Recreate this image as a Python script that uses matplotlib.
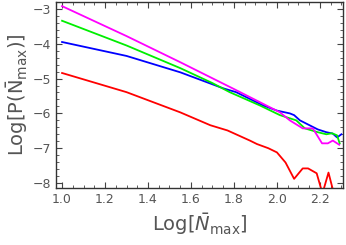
import matplotlib
matplotlib.use("Agg")
import matplotlib.pyplot as plt
from matplotlib.ticker import MultipleLocator

# red curve
x_red = [1.0, 1.3, 1.55, 1.69, 1.77, 1.874, 1.907, 1.96, 2.0, 2.04, 2.08,
         2.12, 2.145, 2.185, 2.212, 2.24, 2.265]
y_red = [-4.84, -5.39, -5.97, -6.34, -6.49, -6.78, -6.88, -7.0, -7.12, -7.41, -7.88,
         -7.58, -7.58, -7.72, -8.3, -7.7, -8.3]

# blue curve
x_blue = [1.0, 1.3, 1.55, 1.75, 1.81, 1.935, 2.0, 2.06, 2.08, 2.107, 2.19, 2.23,
          2.26, 2.28, 2.30]
y_blue = [-3.95, -4.35, -4.82, -5.28, -5.39, -5.77, -5.92, -6.0, -6.05, -6.2, -6.46,
          -6.54, -6.58, -6.69, -6.6]

# green curve
x_green = [1.0, 1.3, 1.55, 1.70, 1.78, 1.92, 2.014, 2.09, 2.13, 2.19, 2.23, 2.256,
           2.28, 2.292]
y_green = [-3.34, -4.05, -4.70, -5.13, -5.39, -5.77, -6.05, -6.2, -6.43, -6.54, -6.6,
           -6.57, -6.63, -6.86]

# magenta curve
x_mag = [1.0, 1.3, 1.55, 1.80, 2.014, 2.06, 2.12, 2.167, 2.21, 2.237, 2.26, 2.29]
y_mag = [-2.92, -3.78, -4.53, -5.3, -5.97, -6.2, -6.43, -6.43, -6.86, -6.86, -6.78,
         -6.9]

plt.rcParams['mathtext.fontset'] = 'dejavusans'
fig = plt.figure(figsize=(3.46, 2.45), dpi=100)
ax = fig.add_axes([0.162, 0.233, 0.829, 0.759])

lw = 1.3
ax.plot(x_red, y_red, color='#ff0000', lw=lw)
ax.plot(x_blue, y_blue, color='#0000ff', lw=lw)
ax.plot(x_green, y_green, color='#00ee00', lw=lw)
ax.plot(x_mag, y_mag, color='#ff00ff', lw=lw)

ax.set_xlim(0.972, 2.307)
ax.set_ylim(-8.14, -2.8)

ax.xaxis.set_major_locator(MultipleLocator(0.2))
ax.xaxis.set_minor_locator(MultipleLocator(0.05))
ax.yaxis.set_major_locator(MultipleLocator(1))
ax.yaxis.set_minor_locator(MultipleLocator(0.2))
ax.xaxis.set_major_formatter(plt.FuncFormatter(lambda v, p: f"{v:.1f}"))
ax.yaxis.set_major_formatter(plt.FuncFormatter(lambda v, p: f"\u2212{abs(int(round(v)))}"))

gray = '#555555'
ax.tick_params(which='both', direction='in', top=True, right=True,
               color='#444444', labelcolor=gray, labelsize=9)
ax.tick_params(which='major', length=4, width=0.8)
ax.tick_params(which='minor', length=2, width=0.6)
for s in ax.spines.values():
    s.set_color('#333333')
    s.set_linewidth(1.0)

ax.set_xlabel(r'Log[$\bar{N}_{\mathrm{max}}$]', fontsize=14, color=gray, labelpad=4)
ax.set_ylabel(r'Log[P($\bar{\mathrm{N}}_{\mathrm{max}}$)]', fontsize=14, color=gray, labelpad=2)

fig.savefig('out.png', dpi=100)
